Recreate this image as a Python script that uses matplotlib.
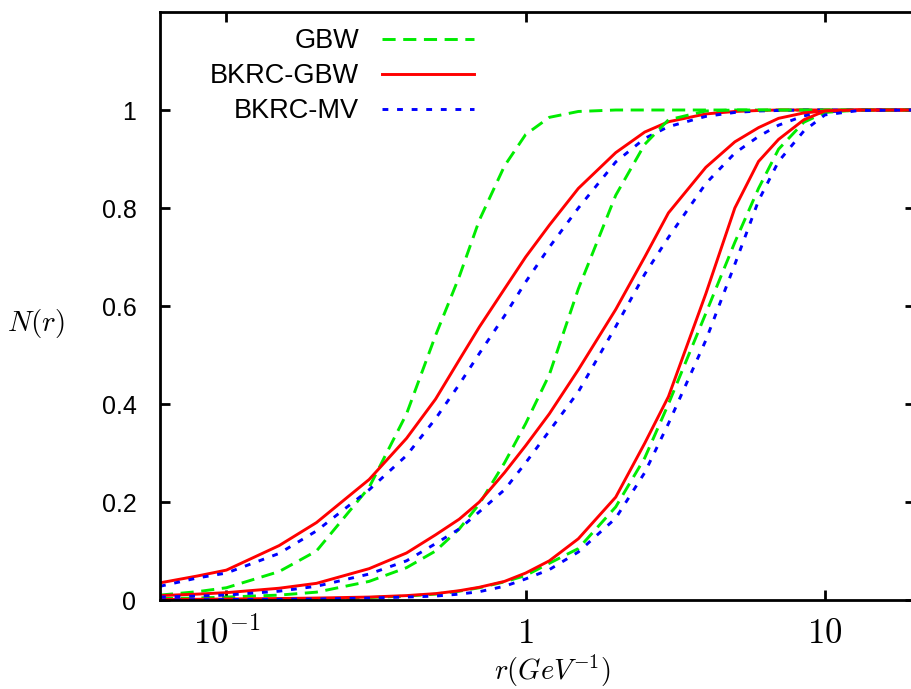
import matplotlib
matplotlib.use("Agg")
import matplotlib.pyplot as plt
from matplotlib.ticker import FixedLocator, FixedFormatter, NullLocator

plt.rcParams['font.family'] = ['Liberation Sans', 'DejaVu Sans']
plt.rcParams['mathtext.fontset'] = 'cm'

# dipole size r (GeV^-1), shared by all curves
r = [0.06, 0.08, 0.1, 0.15, 0.2, 0.3, 0.4, 0.5, 0.6, 0.7, 0.85, 1, 1.2, 1.5,
     2, 2.5, 3, 4, 5, 6, 7, 8.5, 10, 13, 20]

# three sets of curves (left, middle, right)
gbw_1 = [0.010, 0.017, 0.025, 0.058, 0.10, 0.23, 0.38, 0.54, 0.66, 0.775, 0.886, 0.95, 0.985, 0.997,
         1, 1, 1, 1, 1, 1, 1, 1, 1, 1, 1]
bkrc_gbw_1 = [0.035, 0.049, 0.061, 0.111, 0.158, 0.246, 0.33, 0.41, 0.49, 0.557, 0.635, 0.70, 0.765, 0.84,
              0.913, 0.955, 0.976, 0.992, 0.997, 0.999, 1, 1, 1, 1, 1]
bkrc_mv_1 = [0.028, 0.045, 0.055, 0.095, 0.141, 0.225, 0.295, 0.37, 0.44, 0.503, 0.58, 0.649, 0.72, 0.80,
             0.894, 0.942, 0.966, 0.987, 0.995, 0.998, 0.999, 1, 1, 1, 1]

gbw_2 = [0.003, 0.004, 0.006, 0.010, 0.016, 0.038, 0.066, 0.10, 0.145, 0.196, 0.28, 0.36, 0.46, 0.635,
         0.826, 0.93, 0.98, 0.998, 1, 1, 1, 1, 1, 1, 1]
bkrc_gbw_2 = [0.009, 0.012, 0.015, 0.024, 0.034, 0.064, 0.096, 0.133, 0.165, 0.20, 0.26, 0.315, 0.38, 0.47,
              0.593, 0.70, 0.79, 0.883, 0.935, 0.964, 0.983, 0.994, 0.998, 1, 1]
bkrc_mv_2 = [0.006, 0.008, 0.010, 0.018, 0.028, 0.053, 0.08, 0.115, 0.145, 0.18, 0.225, 0.28, 0.345, 0.425,
             0.558, 0.665, 0.74, 0.85, 0.912, 0.946, 0.969, 0.988, 0.996, 1, 1]

gbw_3 = [0.0003, 0.0005, 0.0006, 0.0012, 0.002, 0.005, 0.008, 0.012, 0.018, 0.025, 0.037, 0.05, 0.075, 0.105,
         0.19, 0.29, 0.40, 0.585, 0.73, 0.84, 0.92, 0.975, 0.995, 1, 1]
bkrc_gbw_3 = [0.001, 0.0015, 0.002, 0.003, 0.004, 0.006, 0.009, 0.013, 0.019, 0.026, 0.038, 0.055, 0.08, 0.125,
              0.21, 0.32, 0.415, 0.625, 0.80, 0.895, 0.94, 0.98, 0.998, 1, 1]
bkrc_mv_3 = [0.0005, 0.0007, 0.001, 0.0015, 0.002, 0.004, 0.006, 0.008, 0.012, 0.017, 0.028, 0.043, 0.062, 0.098,
             0.167, 0.26, 0.36, 0.53, 0.685, 0.815, 0.895, 0.957, 0.99, 0.999, 1]

x_ticks = [0.1, 1, 10]
x_tick_labels = [r'$10^{-1}$', r'$1$', r'$10$']
y_ticks = [0, 0.2, 0.4, 0.6, 0.8, 1]
y_tick_labels = ['0', '0.2', '0.4', '0.6', '0.8', '1']

green = '#00ec00'
red = '#ff0000'
blue = '#0000ff'
lw = 2.1
gbw_style = dict(color=green, lw=lw, linestyle=(0, (4.5, 2.6)))
gbwr_style = dict(color=red, lw=lw, linestyle='-')
mv_style = dict(color=blue, lw=lw, linestyle=(0, (2.0, 3.0)))

fig = plt.figure(figsize=(9.12, 6.89), dpi=100)
ax = fig.add_axes([160 / 912, 1 - 600 / 689, 755 / 912, 588 / 689])

groups = [(gbw_1, bkrc_gbw_1, bkrc_mv_1),
          (gbw_2, bkrc_gbw_2, bkrc_mv_2),
          (gbw_3, bkrc_gbw_3, bkrc_mv_3)]
for i, (g, b, m) in enumerate(groups):
    ax.plot(r, g, label='GBW' if i == 0 else None, **gbw_style)
    ax.plot(r, b, label='BKRC-GBW' if i == 0 else None, **gbwr_style)
    ax.plot(r, m, label='BKRC-MV' if i == 0 else None, **mv_style)

ax.set_xscale('log')
ax.set_xlim(0.06, 20)
ax.set_ylim(0, 1.2)
ax.xaxis.set_major_locator(FixedLocator(x_ticks))
ax.xaxis.set_major_formatter(FixedFormatter(x_tick_labels))
ax.xaxis.set_minor_locator(NullLocator())
ax.yaxis.set_major_locator(FixedLocator(y_ticks))
ax.yaxis.set_major_formatter(FixedFormatter(y_tick_labels))

ax.tick_params(axis='both', direction='in', length=7, width=2, top=True, right=True)
ax.tick_params(axis='y', labelsize=18, pad=17)
ax.tick_params(axis='x', labelsize=25, pad=12)
for s in ax.spines.values():
    s.set_linewidth(2)

fig.text(552 / 912, 1 - 671 / 689, r'$r(GeV^{-1})$', fontsize=20.5, ha='center', va='center')
fig.text(36 / 912, 1 - 323 / 689, r'$N(r)$', fontsize=21, ha='center', va='center')

ax.legend(loc='upper right', bbox_to_anchor=(474 / 912, 1 - 28 / 689),
          bbox_transform=fig.transFigure, frameon=False, markerfirst=False,
          fontsize=19.5, handlelength=3.4, handletextpad=0.85, labelspacing=0.34,
          borderpad=0, borderaxespad=0)

fig.savefig('out.png', dpi=100)
